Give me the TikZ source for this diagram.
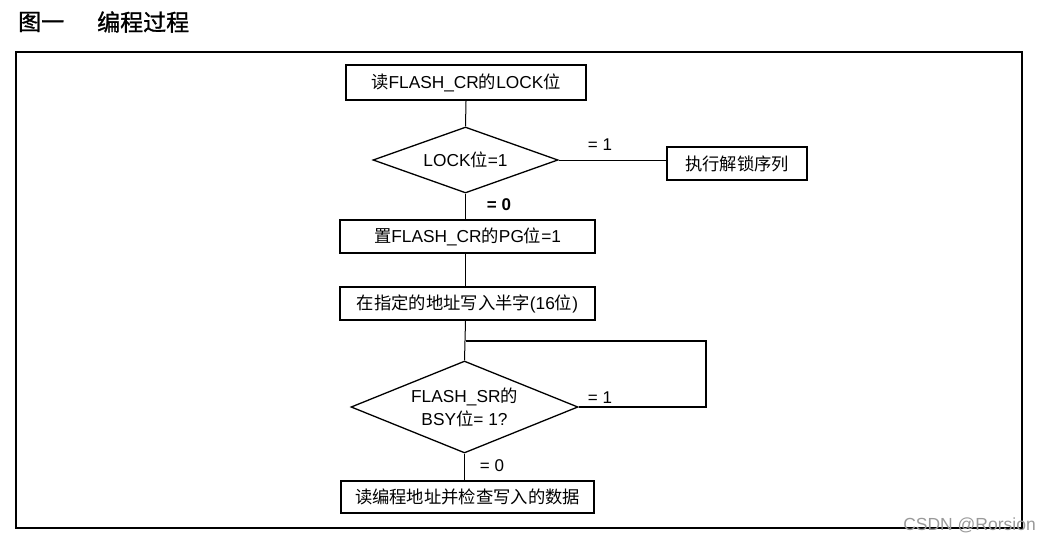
\documentclass[tikz,border=0pt]{standalone}
\usepackage{fontspec}
\setmainfont{Liberation Sans}
\newfontfamily\cjk{Noto Sans CJK SC}
\newfontfamily\cjkb{Noto Sans CJK SC}[FakeBold=1.2]
\usetikzlibrary{shapes.geometric}
\tikzset{
  box/.style={draw, line width=1.8pt, inner sep=0pt, font=\fontsize{17.3}{19}\selectfont},
  dia/.style={draw, diamond, line width=1.3pt, inner sep=0pt, align=center, font=\fontsize{17.3}{23}\selectfont},
  conn/.style={line width=1pt},
  loopline/.style={line width=1.6pt},
  lbl/.style={font=\fontsize{17}{18}\selectfont, inner sep=0pt}
}
\begin{document}
\begin{tikzpicture}[x=1pt,y=-1pt]
\useasboundingbox (0,0) rectangle (1040,543);
% title
\node[anchor=west, inner sep=0pt, font=\fontsize{23}{25}\selectfont\cjkb] (title1) at (18,22) {图一};
\node[anchor=west, inner sep=0pt, font=\fontsize{23}{25}\selectfont\cjkb] (title2) at (97,22) {编程过程};
% frame
\draw[line width=2pt] (16,52) rectangle (1022,528);
% nodes
\node[box, minimum width=240pt, minimum height=35pt] (b1) at (466,82.5) {{\cjk 读}FLASH\_CR{\cjk 的}LOCK{\cjk 位}};
\node[dia, shape aspect=2.8, minimum width=185pt, minimum height=66pt] (d1) at (465.5,160) {LOCK{\cjk 位}=1};
\node[box, line width=1.6pt, minimum width=140pt, minimum height=33pt] (un) at (737,163.5) {\cjk 执行解锁序列};
\node[box, minimum width=255pt, minimum height=33pt] (b2) at (467.5,236.5) {{\cjk 置}FLASH\_CR{\cjk 的}PG{\cjk 位}=1};
\node[box, minimum width=255pt, minimum height=33pt] (b3) at (467.5,303.5) {{\cjk 在指定的地址写入半字}(16{\cjk 位})};
\node[dia, shape aspect=2.47, minimum width=227pt, minimum height=92pt] (d2) at (464.5,407) {FLASH\_SR{\cjk 的}\\BSY{\cjk 位}= 1?};
\node[box, minimum width=253pt, minimum height=32pt] (b4) at (467.5,497) {\cjk 读编程地址并检查写入的数据};
% labels
\node[lbl] (l1) at (600,145) {= 1};
\node[lbl, font=\bfseries\fontsize{17}{18}\selectfont] (l0) at (499,205) {= 0};
\node[lbl] (l2) at (600,398) {= 1};
\node[lbl] (l3) at (492,466) {= 0};
% connectors
\coordinate (j) at (466,341);
\coordinate (lr) at (706,341);
\draw[conn] (b1.south) -- (d1.north);
\draw[conn] (d1.east) -- (d1.east -| un.west);
\draw[conn] (d1.south) -- (d1.south |- b2.north);
\draw[conn] (b2.south -| d1.south) -- (d1.south |- b3.north);
\draw[conn] (b3.south -| d1.south) -- (d2.north);
\draw[loopline] (d2.east) -| (lr) -- (j);
\draw[conn] (d2.south) -- (d2.south |- b4.north);
% watermark
\node[anchor=east, inner sep=0pt, text=black!40, font=\fontsize{17.5}{18}\selectfont] (wm) at (1036,525) {CSDN @Rorsion};
\end{tikzpicture}
\end{document}
